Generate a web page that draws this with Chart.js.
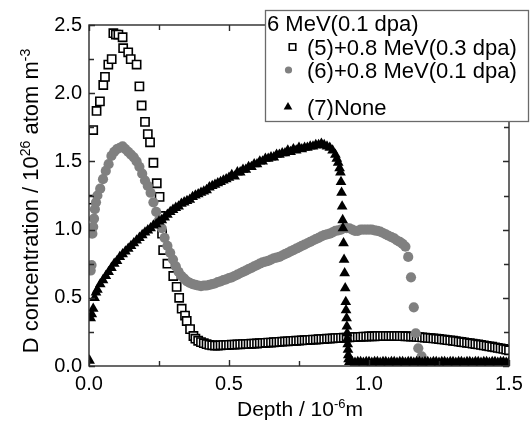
<!DOCTYPE html>
<html><head><meta charset="utf-8">
<script src="https://cdn.jsdelivr.net/npm/chart.js@4.4.1/dist/chart.umd.min.js"></script>
<style>html,body{margin:0;padding:0;background:#fff;overflow:hidden}</style>
</head><body>
<canvas id="c" width="532" height="423"></canvas>
<script>
// ---------------- data ----------------
const legendTitle = '6 MeV(0.1 dpa)';
const seriesLabels = ['(5)+0.8 MeV(0.3 dpa)', '(6)+0.8 MeV(0.1 dpa)', '(7)None'];
const xTitleParts = [['Depth / 10', false], ['-6', true], ['m', false]];
const yTitleParts = [['D concentration / 10', false], ['26', true], [' atom m', false], ['-3', true]];
const xRange = [0, 1.5];
const yRange = [0, 2.5];
const tickStep = 0.25;
const labelStep = 0.5;

// (5)+0.8 MeV(0.3 dpa): [depth, concentration]
const series5 = [
[0.008,1.22],[0.015,1.73],[0.027,1.87],[0.039,1.94],[0.051,2.06],[0.057,2.12],[0.069,2.21],[0.081,2.25],
[0.087,2.44],[0.096,2.43],[0.105,2.43],[0.12,2.41],[0.122,2.33],[0.14,2.30],[0.149,2.25],[0.17,2.21],
[0.18,2.05],[0.188,1.91],[0.2,1.79],[0.21,1.70],[0.218,1.64],[0.23,1.49],[0.242,1.34],[0.252,1.24],
[0.257,1.10],[0.261,0.97],[0.265,0.85],[0.28,0.75],[0.301,0.66],[0.313,0.58],[0.322,0.50],[0.331,0.42],
[0.343,0.37],[0.349,0.33],[0.361,0.27],[0.373,0.22],[0.38,0.20],[0.39,0.185],[0.40,0.175],[0.41,0.167],
[0.42,0.160],[0.43,0.155],[0.44,0.152],[0.45,0.150],[0.46,0.150],[0.47,0.152],[0.48,0.153],[0.49,0.154],
[0.50,0.155],[0.51,0.156],[0.52,0.157],[0.53,0.158],[0.54,0.159],[0.55,0.160],[0.56,0.161],[0.57,0.162],
[0.58,0.163],[0.59,0.164],[0.60,0.165],[0.61,0.167],[0.62,0.168],[0.63,0.170],[0.64,0.171],[0.65,0.172],
[0.66,0.174],[0.67,0.175],[0.68,0.177],[0.69,0.178],[0.70,0.180],[0.71,0.181],[0.72,0.182],[0.73,0.184],
[0.74,0.185],[0.75,0.186],[0.76,0.188],[0.77,0.189],[0.78,0.190],[0.79,0.192],[0.80,0.193],[0.81,0.194],
[0.82,0.196],[0.83,0.197],[0.84,0.198],[0.85,0.200],[0.86,0.201],[0.87,0.202],[0.88,0.204],[0.89,0.205],
[0.90,0.206],[0.91,0.207],[0.92,0.208],[0.93,0.210],[0.94,0.211],[0.95,0.212],[0.96,0.213],[0.97,0.214],
[0.98,0.215],[0.99,0.216],[1.00,0.217],[1.01,0.218],[1.02,0.218],[1.03,0.219],[1.04,0.219],[1.05,0.220],
[1.06,0.220],[1.07,0.220],[1.08,0.220],[1.09,0.220],[1.10,0.220],[1.11,0.219],[1.12,0.219],[1.13,0.218],
[1.14,0.217],[1.15,0.216],[1.16,0.215],[1.17,0.213],[1.18,0.212],[1.19,0.210],[1.20,0.208],[1.21,0.206],
[1.22,0.204],[1.23,0.202],[1.24,0.200],[1.25,0.198],[1.26,0.195],[1.27,0.193],[1.28,0.190],[1.29,0.188],
[1.30,0.185],[1.31,0.182],[1.32,0.179],[1.33,0.176],[1.34,0.173],[1.35,0.170],[1.36,0.167],[1.37,0.164],
[1.38,0.161],[1.39,0.158],[1.40,0.155],[1.41,0.151],[1.42,0.148],[1.43,0.144],[1.44,0.141],[1.45,0.137],
[1.46,0.133],[1.47,0.129],[1.48,0.125],[1.49,0.120],[1.50,0.115]
];

// (6)+0.8 MeV(0.1 dpa)
const series6 = [
[0.006,0.70],[0.009,0.74],[0.012,0.97],[0.015,1.02],[0.018,1.08],[0.021,1.15],[0.025,1.20],[0.03,1.25],
[0.04,1.30],[0.05,1.37],[0.06,1.43],[0.07,1.48],[0.08,1.54],[0.09,1.57],[0.10,1.59],[0.11,1.60],
[0.12,1.61],[0.13,1.59],[0.14,1.57],[0.15,1.55],[0.16,1.53],[0.17,1.50],[0.18,1.46],[0.19,1.41],
[0.20,1.36],[0.21,1.32],[0.22,1.27],[0.23,1.20],[0.24,1.13],[0.25,1.07],[0.26,1.01],[0.27,0.94],
[0.28,0.88],[0.29,0.83],[0.30,0.78],[0.31,0.73],[0.32,0.69],[0.33,0.66],[0.34,0.64],[0.35,0.62],
[0.36,0.61],[0.37,0.60],[0.38,0.595],[0.39,0.59],[0.40,0.585],[0.41,0.59],[0.42,0.59],[0.43,0.595],
[0.44,0.60],[0.45,0.605],[0.46,0.615],[0.47,0.62],[0.48,0.63],[0.49,0.635],[0.50,0.645],[0.51,0.65],
[0.52,0.66],[0.53,0.67],[0.54,0.68],[0.55,0.69],[0.56,0.70],[0.57,0.71],[0.58,0.72],[0.59,0.73],
[0.60,0.74],[0.61,0.75],[0.62,0.76],[0.63,0.765],[0.64,0.77],[0.65,0.78],[0.66,0.79],[0.67,0.795],
[0.68,0.80],[0.69,0.81],[0.70,0.82],[0.71,0.83],[0.72,0.84],[0.73,0.85],[0.74,0.86],[0.75,0.87],
[0.76,0.88],[0.77,0.89],[0.78,0.90],[0.79,0.91],[0.80,0.92],[0.81,0.93],[0.82,0.94],[0.83,0.95],
[0.84,0.96],[0.85,0.965],[0.86,0.97],[0.87,0.98],[0.88,0.99],[0.89,0.995],[0.90,1.00],[0.91,1.01],
[0.92,1.01],[0.93,1.01],[0.94,1.00],[0.95,0.99],[0.96,0.99],[0.97,1.00],[0.98,1.00],[0.99,1.00],
[1.00,1.00],[1.01,1.00],[1.02,0.995],[1.03,0.99],[1.04,0.985],[1.05,0.975],[1.06,0.965],[1.07,0.955],
[1.08,0.945],[1.09,0.935],[1.10,0.92],[1.11,0.91],[1.12,0.895],[1.13,0.875],[1.14,0.80],[1.15,0.65],
[1.16,0.43],[1.167,0.24],[1.176,0.13],[1.188,0.07],[1.195,0.03]
];

// (7)None
const series7 = [
[0.002,0.04],[0.006,0.35],[0.01,0.38],[0.015,0.42],[0.02,0.50],[0.025,0.54],[0.03,0.56],[0.04,0.60],
[0.05,0.63],[0.06,0.66],[0.07,0.69],[0.08,0.72],[0.09,0.75],[0.10,0.77],[0.11,0.80],[0.12,0.82],
[0.13,0.84],[0.14,0.86],[0.15,0.88],[0.16,0.90],[0.17,0.92],[0.18,0.94],[0.19,0.96],[0.20,0.98],
[0.21,0.995],[0.22,1.01],[0.23,1.03],[0.24,1.04],[0.25,1.06],[0.26,1.07],[0.27,1.09],[0.28,1.11],
[0.29,1.13],[0.30,1.145],[0.31,1.16],[0.32,1.17],[0.33,1.19],[0.34,1.20],[0.35,1.21],[0.36,1.22],
[0.37,1.24],[0.38,1.25],[0.39,1.26],[0.40,1.27],[0.41,1.28],[0.42,1.29],[0.43,1.31],[0.44,1.32],
[0.45,1.33],[0.46,1.34],[0.47,1.35],[0.48,1.36],[0.49,1.37],[0.50,1.38],[0.51,1.40],[0.52,1.39],
[0.53,1.42],[0.54,1.42],[0.55,1.44],[0.56,1.44],[0.57,1.46],[0.58,1.46],[0.59,1.48],[0.60,1.48],
[0.61,1.50],[0.62,1.50],[0.63,1.52],[0.64,1.52],[0.65,1.53],[0.66,1.53],[0.67,1.55],[0.68,1.55],
[0.69,1.56],[0.70,1.56],[0.71,1.58],[0.72,1.57],[0.73,1.59],[0.74,1.58],[0.75,1.60],[0.76,1.59],
[0.77,1.60],[0.78,1.60],[0.79,1.61],[0.80,1.61],[0.81,1.62],[0.82,1.62],[0.83,1.63],[0.84,1.62],
[0.85,1.61],[0.86,1.60],[0.87,1.58],[0.88,1.55],[0.885,1.52],[0.89,1.49],[0.895,1.45],[0.898,1.42],
[0.90,1.35],[0.902,1.27],[0.904,1.17],[0.906,1.07],[0.907,1.01],[0.909,0.90],[0.911,0.78],[0.913,0.68],
[0.915,0.57],[0.917,0.47],[0.918,0.41],[0.92,0.35],[0.921,0.29],[0.922,0.24],[0.923,0.20],[0.924,0.16],
[0.925,0.12],[0.926,0.08],[0.927,0.05],[0.93,0.03],[0.94,0.03],[0.95,0.025],[0.96,0.03],[0.97,0.03],
[0.98,0.025],[0.99,0.03],[1.00,0.03],[1.01,0.025],[1.02,0.03],[1.03,0.03],[1.04,0.025],[1.05,0.03],
[1.06,0.03],[1.07,0.025],[1.08,0.03],[1.09,0.03],[1.10,0.025],[1.11,0.03],[1.12,0.03],[1.13,0.025],
[1.14,0.03],[1.15,0.03],[1.16,0.025],[1.17,0.03],[1.18,0.03],[1.19,0.025],[1.20,0.03],[1.21,0.03],
[1.22,0.025],[1.23,0.03],[1.24,0.03],[1.25,0.025],[1.26,0.03],[1.27,0.03],[1.28,0.025],[1.29,0.03],
[1.30,0.03],[1.31,0.025],[1.32,0.03],[1.33,0.03],[1.34,0.025],[1.35,0.03],[1.36,0.03],[1.37,0.025],
[1.38,0.03],[1.39,0.03],[1.40,0.025],[1.41,0.03],[1.42,0.03],[1.43,0.025],[1.44,0.03],[1.45,0.03],
[1.46,0.025],[1.47,0.03],[1.48,0.03],[1.49,0.025],[1.50,0.03]
];

// ---------------- styling / layout ----------------
const FONT = '"Liberation Sans", Arial, Helvetica, sans-serif';
const AXIS_COLOR = '#2a2a2a';
const toXY = arr => arr.map(p => ({x: p[0], y: p[1]}));
const isLabelled = v => Math.abs(v / labelStep - Math.round(v / labelStep)) < 1e-6;

function drawMarker(ctx, ds, x, y, r) {
  ctx.save();
  ctx.fillStyle = ds.pointBackgroundColor;
  ctx.strokeStyle = ds.pointBorderColor;
  ctx.lineWidth = ds.pointBorderWidth;
  ctx.beginPath();
  if (ds.pointStyle === 'rect') {
    const s = r * Math.SQRT1_2;
    ctx.rect(x - s, y - s, 2 * s, 2 * s);
  } else if (ds.pointStyle === 'triangle') {
    ctx.moveTo(x, y - r);
    ctx.lineTo(x + r * 0.866, y + r * 0.5);
    ctx.lineTo(x - r * 0.866, y + r * 0.5);
    ctx.closePath();
  } else {
    ctx.arc(x, y, r, 0, Math.PI * 2);
  }
  ctx.fill();
  if (ds.pointBorderWidth > 0) ctx.stroke();
  ctx.restore();
}

function drawRich(ctx, parts, cx, baseline, size, supSize, supRaise) {
  const widths = parts.map(([t, sup]) => {
    ctx.font = (sup ? supSize : size) + 'px ' + FONT;
    return ctx.measureText(t).width;
  });
  const total = widths.reduce((a, b) => a + b, 0);
  let x = cx - total / 2;
  ctx.textAlign = 'left';
  ctx.textBaseline = 'alphabetic';
  parts.forEach(([t, sup], i) => {
    ctx.font = (sup ? supSize : size) + 'px ' + FONT;
    ctx.fillText(t, x, sup ? baseline - supRaise : baseline);
    x += widths[i];
  });
}

const decor = {
  id: 'decor',
  afterDatasetsDraw(chart) {
    const {ctx, chartArea: a, scales: {x, y}} = chart;
    ctx.save();
    ctx.strokeStyle = AXIS_COLOR;
    ctx.lineWidth = 1.4;
    ctx.strokeRect(a.left, a.top, a.right - a.left, a.bottom - a.top);
    ctx.beginPath();
    x.ticks.forEach(t => {
      const px = Math.round(x.getPixelForValue(t.value)) + 0.5;
      const len = isLabelled(t.value) ? 6 : 5;
      ctx.moveTo(px, a.bottom); ctx.lineTo(px, a.bottom - len);
      ctx.moveTo(px, a.top); ctx.lineTo(px, a.top + len);
    });
    y.ticks.forEach(t => {
      const py = Math.round(y.getPixelForValue(t.value)) + 0.5;
      const len = isLabelled(t.value) ? 6 : 5;
      ctx.moveTo(a.left, py); ctx.lineTo(a.left + len, py);
      ctx.moveTo(a.right, py); ctx.lineTo(a.right - len, py);
    });
    ctx.stroke();
    ctx.restore();
  },
  afterDraw(chart) {
    const {ctx, chartArea: a} = chart;
    ctx.save();
    ctx.fillStyle = '#000';
    // x axis title
    drawRich(ctx, xTitleParts, (a.left + a.right) / 2 + 1, 416, 21, 13, 8);
    // y axis title (rotated)
    ctx.save();
    ctx.translate(38, 201);
    ctx.rotate(-Math.PI / 2);
    drawRich(ctx, yTitleParts, 0, 0, 22, 14, 8);
    ctx.restore();

    // legend box
    const bx = 265, by = 10, bw = 264, bh = 112;
    ctx.fillStyle = '#fff';
    ctx.fillRect(bx, by, bw, bh);
    ctx.strokeStyle = '#6a6a6a';
    ctx.lineWidth = 1.3;
    ctx.strokeRect(bx + 0.5, by + 0.5, bw - 1, bh - 1);
    ctx.fillStyle = '#000';
    ctx.font = '22px ' + FONT;
    ctx.textAlign = 'left';
    ctx.textBaseline = 'alphabetic';
    ctx.fillText(legendTitle, 267, 31);
    const rowsY = [47, 70, 107];
    const markX = [292.5, 288.5, 288];
    const markR = [4.6, 3.6, 5];
    chart.data.datasets.forEach((ds, i) => {
      drawMarker(ctx, ds, markX[i], rowsY[i], markR[i]);
      ctx.fillStyle = '#000';
      ctx.font = '22px ' + FONT;
      ctx.fillText(ds.label, 307, rowsY[i] + 8);
    });
    ctx.restore();
  }
};

new Chart(document.getElementById('c'), {
  type: 'scatter',
  data: {
    datasets: [
      {label: seriesLabels[0], data: toXY(series5), pointStyle: 'rect', pointRadius: 5.8,
       pointBackgroundColor: '#fff', pointBorderColor: '#000', pointBorderWidth: 1.6, order: 3},
      {label: seriesLabels[1], data: toXY(series6), pointStyle: 'circle', pointRadius: 5.1,
       pointBackgroundColor: '#808080', pointBorderColor: '#808080', pointBorderWidth: 0, order: 2},
      {label: seriesLabels[2], data: toXY(series7), pointStyle: 'triangle', pointRadius: 6.2,
       pointBackgroundColor: '#000', pointBorderColor: '#000', pointBorderWidth: 0, order: 1}
    ]
  },
  options: {
    responsive: false,
    animation: false,
    devicePixelRatio: 1,
    layout: {padding: {left: 0, right: 23, top: 25, bottom: 0}},
    plugins: {legend: {display: false}, tooltip: {enabled: false}},
    scales: {
      x: {
        type: 'linear', min: xRange[0], max: xRange[1],
        grid: {display: false, drawTicks: false}, border: {display: false},
        ticks: {stepSize: tickStep, autoSkip: false, maxRotation: 0, padding: 6, color: '#000',
                font: {family: FONT, size: 20},
                callback: v => isLabelled(v) ? v.toFixed(1) : ''},
        afterFit: s => { s.height = 57; }
      },
      y: {
        type: 'linear', min: yRange[0], max: yRange[1],
        grid: {display: false, drawTicks: false}, border: {display: false},
        ticks: {stepSize: tickStep, autoSkip: false, padding: 7, color: '#000',
                font: {family: FONT, size: 20},
                callback: v => isLabelled(v) ? v.toFixed(1) : ''},
        afterFit: s => { s.width = 89; }
      }
    }
  },
  plugins: [decor]
});
</script>
</body></html>
